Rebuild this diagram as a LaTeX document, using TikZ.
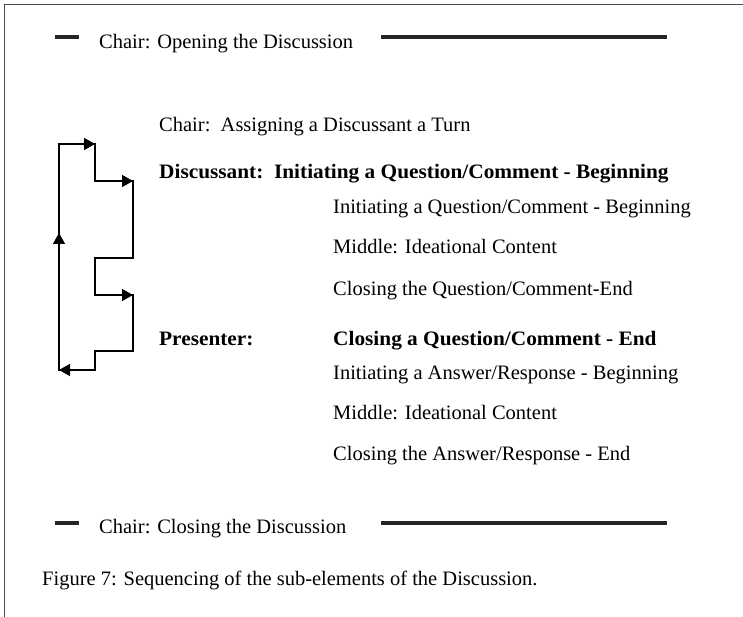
\documentclass[tikz,border=0pt]{standalone}
\usepackage{fontspec}
\setmainfont{Liberation Serif}[BoldFeatures={FakeStretch=1.04}]
\usetikzlibrary{arrows.meta}
\tikzset{
    txt/.style={anchor=base west, inner sep=0pt, font=\fontsize{20.5}{24}\selectfont},
    btxt/.style={txt, font=\fontsize{20.5}{24}\selectfont\bfseries},
    rule/.style={line width=4pt, black!85},
    loop/.style={line width=1.5pt, line join=miter},
    tip/.style={loop, -{Triangle[length=11pt, width=12pt]}}
}
\begin{document}
\begin{tikzpicture}[x=1pt, y=-1pt]
        \useasboundingbox (0,0) rectangle (743,617);
        % frame
        \draw[black!70, line width=1.3pt] (4.5,617) -- (4.5,4.5) -- (743,4.5);
        % opening
        \draw[rule] (55,37) -- (79,37);
        \node[txt] (open) at (99,49) {Chair: Opening the Discussion};
        \draw[rule] (381,37) -- (667,37);
        % turn
        \node[txt] (turn) at (159,132) {Chair:\ \ Assigning a Discussant a Turn};
        \node[btxt] (disc) at (159,179) {Discussant:\ \ Initiating a Question/Comment - Beginning};
        \node[txt] (qbeg) at (333,214) {Initiating a Question/Comment - Beginning};
        \node[txt] (qmid) at (333,254) {Middle: Ideational Content};
        \node[txt] (qend) at (333,295) {Closing the Question/Comment-End};
        \node[btxt] (pres) at (159,345) {Presenter:};
        \node[btxt] (pclose) at (333,345) {Closing a Question/Comment - End};
        \node[txt] (abeg) at (333,379) {Initiating a Answer/Response - Beginning};
        \node[txt] (amid) at (333,419) {Middle: Ideational Content};
        \node[txt] (aend) at (333,460) {Closing the Answer/Response - End};
        % closing
        \draw[rule] (55,523) -- (79,523);
        \node[txt] (close) at (99,533) {Chair: Closing the Discussion};
        \draw[rule] (381,523) -- (667,523);
        \node[txt] (caption) at (42,585) {Figure 7: Sequencing of the sub-elements of the Discussion.};
        % loop
        \coordinate (a) at (59,144);
        \coordinate (b) at (95,144);
        \coordinate (c) at (95,181);
        \coordinate (d) at (133,181);
        \coordinate (e) at (133,258);
        \coordinate (f) at (95,258);
        \coordinate (g) at (95,295);
        \coordinate (h) at (133,295);
        \coordinate (i) at (133,351);
        \coordinate (j) at (95,351);
        \coordinate (k) at (95,370);
        \coordinate (l) at (59,370);
        \coordinate (m) at (59,233);
        \draw[loop] (a) -- (b) -- (c) -- (d) -- (e) -- (f) -- (g) -- (h) -- (i) -- (j) -- (k) -- (l) -- cycle;
        \draw[tip] (a) -- (b);
        \draw[tip] (c) -- (d);
        \draw[tip] (g) -- (h);
        \draw[tip] (k) -- (l);
        \draw[tip] (l) -- (m);
    \end{tikzpicture}
\end{document}
